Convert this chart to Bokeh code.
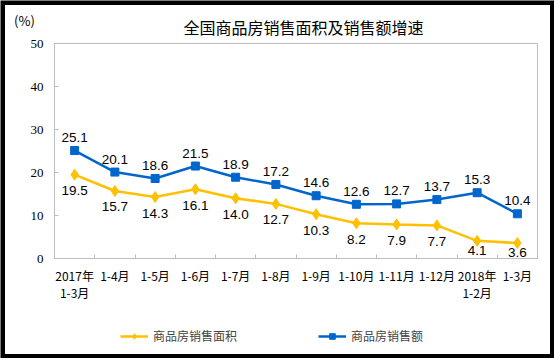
from bokeh.plotting import figure
from bokeh.models import (ColumnDataSource, Range1d, Label, Legend, LegendItem,
                          FixedTicker, BoxAnnotation, LinearAxis)
from bokeh.core.properties import value
from bokeh.embed import file_html
from bokeh.resources import INLINE

# ---- data ----
periods = ["2017年\n1-3月", "1-4月", "1-5月", "1-6月", "1-7月", "1-8月", "1-9月",
           "1-10月", "1-11月", "1-12月", "2018年\n1-2月", "1-3月"]
area_growth = [19.5, 15.7, 14.3, 16.1, 14.0, 12.7, 10.3, 8.2, 7.9, 7.7, 4.1, 3.6]
amount_growth = [25.1, 20.1, 18.6, 21.5, 18.9, 17.2, 14.6, 12.6, 12.7, 13.7, 15.3, 10.4]
y_ticks = [0, 10, 20, 30, 40, 50]
title_text = "全国商品房销售面积及销售额增速"
unit_text = "(%)"
area_name = "商品房销售面积"
amount_name = "商品房销售额"

# ---- layout (pixels) ----
W, H = 554, 358
PL, PR, PT, PB = 54, 537, 43, 258          # plot-area box on the canvas
YELLOW = "#FFC000"
BLUE = "#0066CC"
GRAY = "#BDBDBD"
CJK = "Noto Sans CJK SC"

n = len(periods)
y_max = y_ticks[-1]
ppx = (PR - PL) / n
ppy = (PB - PT) / y_max
xs = [i + 0.5 for i in range(n)]

src = ColumnDataSource(dict(
    x=xs,
    area=area_growth,
    amount=amount_growth,
    area_lbl=[f"{v:.1f}" for v in area_growth],
    amount_lbl=[f"{v:.1f}" for v in amount_growth],
    area_dy=[min(16, max(9, v * ppy - 8)) for v in area_growth],
))

p = figure(width=W, height=H, output_backend="svg", toolbar_location=None,
           x_range=Range1d(-PL / ppx, n + (W - PR) / ppx),
           y_range=Range1d(-(H - PB) / ppy, y_max + PT / ppy),
           x_axis_location=None, y_axis_location=None,
           min_border=0, min_border_left=0, min_border_right=0,
           min_border_top=0, min_border_bottom=0,
           styles={"position": "absolute", "left": "0px", "top": "0px"})
p.title.visible = False
p.outline_line_color = None
p.background_fill_color = "white"
p.border_fill_color = "white"
p.xgrid.visible = False
p.ygrid.visible = False

# plot-area box
p.add_layout(BoxAnnotation(left=0, right=n, bottom=0, top=y_max,
                           fill_color=None, fill_alpha=0, line_color=GRAY,
                           line_alpha=1, line_width=1))

# y axis
yax = LinearAxis(fixed_location=0, bounds=(0, y_max), ticker=FixedTicker(ticks=y_ticks),
                 axis_line_color=GRAY, major_tick_line_color=GRAY,
                 major_tick_in=4, major_tick_out=0, minor_tick_line_color=None,
                 major_label_text_font="Liberation Serif",
                 major_label_text_font_size="13px", major_label_text_color="black",
                 major_label_standoff=11)
p.add_layout(yax, "left")

# x axis: labels at category centres, small ticks at category boundaries
xax = LinearAxis(fixed_location=0, bounds=(0, n),
                 ticker=FixedTicker(ticks=xs, minor_ticks=list(range(1, n))),
                 major_label_overrides={x: lab for x, lab in zip(xs, periods)},
                 axis_line_color=GRAY, major_tick_line_color=None,
                 minor_tick_line_color=GRAY, minor_tick_in=4, minor_tick_out=0,
                 major_label_text_font=CJK, major_label_text_font_size="12px",
                 major_label_text_line_height=1.0,
                 major_label_text_color="black", major_label_standoff=2)
p.add_layout(xax, "below")

# series
l1 = p.line("x", "area", source=src, line_color=YELLOW, line_width=2.5)
m1 = p.scatter("x", "area", source=src, marker="diamond", size=11,
               fill_color=YELLOW, line_color=YELLOW)
l2 = p.line("x", "amount", source=src, line_color=BLUE, line_width=2.5)
m2 = p.scatter("x", "amount", source=src, marker="square", size=8,
               fill_color=BLUE, line_color=BLUE)

p.text("x", "amount", text="amount_lbl", source=src, y_offset=-13,
       text_align="center", text_baseline="middle", text_font=value("Liberation Sans"),
       text_font_size="13.5px", text_color="black")
p.text("x", "area", text="area_lbl", source=src, y_offset="area_dy",
       text_align="center", text_baseline="middle", text_font=value("Liberation Sans"),
       text_font_size="13.5px", text_color="black")

# title and unit
p.add_layout(Label(x=(303 - PL) / ppx, y=y_max + (PT - 26) / ppy, text=title_text,
                   text_align="center", text_baseline="middle", text_font=CJK,
                   text_font_size="16px", text_color="black"))
p.add_layout(Label(x=(24 - PL) / ppx, y=y_max + (PT - 20) / ppy, text=unit_text,
                   text_align="center", text_baseline="middle", text_font=CJK,
                   text_font_size="13px", text_color="black"))

legend = Legend(items=[LegendItem(label=area_name, renderers=[l1, m1]),
                       LegendItem(label=amount_name, renderers=[l2, m2])],
                orientation="horizontal", location=(120, 14),
                label_text_font=CJK, label_text_font_size="12px",
                label_height=14, glyph_width=28, glyph_height=14, spacing=81,
                padding=0, margin=0, label_standoff=5,
                border_line_color=None, background_fill_alpha=0)
p.add_layout(legend, "center")

# outer black frame
p.add_layout(BoxAnnotation(left=0, right=W, top=0, bottom=H,
                           left_units="canvas", right_units="canvas",
                           top_units="canvas", bottom_units="canvas",
                           fill_color=None, fill_alpha=0, line_color="black",
                           line_alpha=1, line_width=9))

open("out.html", "w").write(file_html(p, INLINE))
